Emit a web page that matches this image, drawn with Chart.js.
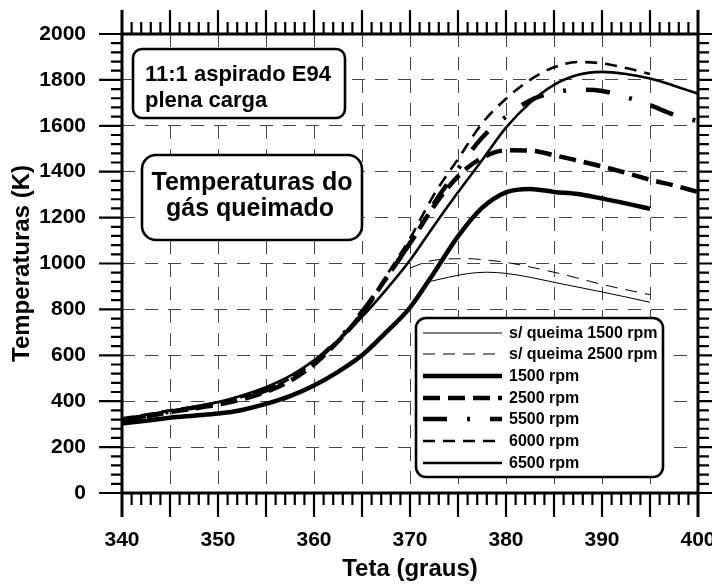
<!DOCTYPE html>
<html><head><meta charset="utf-8">
<script src="https://cdn.jsdelivr.net/npm/chart.js@4/dist/chart.umd.min.js"></script>
<style>html,body{margin:0;padding:0;background:#fff}canvas{display:block}</style>
</head><body>
<canvas id="c" width="712" height="588"></canvas>
<script>
// ---- data ----
const theta = [340,342.5,345,347.5,350,352.5,355,357.5,360,362.5,365,367.5,370,372.5,375,377.5,380,382.5,385,387.5,390,392.5,395,397.5,400];
const rpm1500 = [303,315,328,337,346,362,388,422,468,528,600,700,808,960,1118,1242,1310,1325,1312,1303,1283,1262,1238,null,null];
const rpm2500 = [315,333,352,368,385,408,440,488,560,660,782,935,1088,1250,1380,1460,1493,1492,1472,1448,1423,1395,1365,1340,1312];
const rpm5500 = [318,336,355,372,390,415,447,495,570,668,790,935,1090,1262,1412,1548,1640,1710,1745,1757,1752,1725,1690,1648,1620];
const rpm6000 = [325,342,360,376,393,418,450,498,572,668,785,945,1110,1300,1455,1610,1718,1800,1855,1878,1872,1852,1826,null,null];
const rpm6500 = [322,340,358,376,396,425,461,510,578,662,767,885,1014,1165,1310,1450,1592,1700,1778,1822,1835,1826,1806,1775,1740];
const thetaSemQueima1500 = [372,374,376,378,380,382.5,385,387.5,390,392.5,395];
const semQueima1500 = [921,940,956,962,957,940,918,897,876,854,831];
const thetaSemQueima2500 = [370,372,374,376,378,380,382.5,385,387.5,390,392.5,395];
const semQueima2500 = [980,1010,1020,1021,1015,1005,985,962,936,909,886,864];
const seriesLabels = ['s/ queima 1500 rpm','s/ queima 2500 rpm','1500 rpm','2500 rpm','5500 rpm','6000 rpm','6500 rpm'];
const xTickLabels = [340,350,360,370,380,390,400];
const yTickLabels = [0,200,400,600,800,1000,1200,1400,1600,1800,2000];
const xAxisTitle = 'Teta (graus)';
const yAxisTitle = 'Temperaturas (K)';
const box1Lines = ['11:1 aspirado E94','plena carga'];
const box2Lines = ['Temperaturas do','gás queimado'];

const FONT = "'Liberation Sans', Arial, Helvetica, sans-serif";
function pts(xs, ys){ return xs.map((x,i)=>({x:x, y:ys[i]})).filter(p=>p.y!==null); }

const seriesData = [
  pts(thetaSemQueima1500, semQueima1500),
  pts(thetaSemQueima2500, semQueima2500),
  pts(theta, rpm1500), pts(theta, rpm2500), pts(theta, rpm5500), pts(theta, rpm6000), pts(theta, rpm6500)
];
const seriesStyle = [
  {w:1, dash:[]}, {w:1, dash:[12,8]}, {w:4.5, dash:[]}, {w:4.5, dash:[17,8]},
  {w:4.5, dash:[24,20,3,20]}, {w:2.6, dash:[12,8]}, {w:2.6, dash:[]}
];

const datasets = seriesLabels.map((lab,i)=>({
  label: lab, data: seriesData[i], borderColor:'#000', backgroundColor:'#000',
  borderWidth: seriesStyle[i].w, borderDash: seriesStyle[i].dash, borderCapStyle:'butt',
  pointRadius:0, fill:false, cubicInterpolationMode:'monotone', spanGaps:false
}));

function roundBox(ctx, x, y, w, h, r){
  ctx.beginPath(); ctx.roundRect(x, y, w, h, r);
  ctx.fillStyle='#fff'; ctx.fill(); ctx.lineWidth=2.6; ctx.strokeStyle='#000'; ctx.stroke();
}

const framePlugin = {
  id:'frame',
  afterDatasetsDraw(chart){
    const {ctx, chartArea:a, scales:{x, y}} = chart;
    ctx.save();
    // annotation box 1
    roundBox(ctx, 133, 49, 212, 69, 9);
    ctx.fillStyle='#000'; ctx.font='bold 22px '+FONT; ctx.textAlign='left'; ctx.textBaseline='alphabetic';
    ctx.fillText(box1Lines[0], 145, 81);
    ctx.fillText(box1Lines[1], 145, 107);
    // annotation box 2
    roundBox(ctx, 142, 155, 220, 85, 14);
    ctx.fillStyle='#000'; ctx.font='bold 25px '+FONT; ctx.textAlign='center';
    ctx.fillText(box2Lines[0], 252, 190);
    ctx.fillText(box2Lines[1], 250, 216);
    // legend
    roundBox(ctx, 416, 318, 247, 159, 10);
    const rows = [333,354,376,398,419,441,463];
    chart.data.datasets.forEach((ds,i)=>{
      ctx.save();
      ctx.strokeStyle='#000'; ctx.lineWidth=ds.borderWidth; ctx.setLineDash(ds.borderDash); ctx.lineCap='butt';
      ctx.beginPath(); ctx.moveTo(423, rows[i]); ctx.lineTo(502, rows[i]); ctx.stroke();
      ctx.restore();
      ctx.fillStyle='#000'; ctx.font='bold 16px '+FONT; ctx.textAlign='left'; ctx.textBaseline='middle';
      ctx.fillText(ds.label, 509, rows[i]+1);
    });
    // axes frame
    ctx.setLineDash([]); ctx.strokeStyle='#000'; ctx.lineCap='butt';
    ctx.lineWidth=3;
    ctx.beginPath();
    ctx.moveTo(a.left, a.top-24); ctx.lineTo(a.left, a.bottom+24);
    ctx.moveTo(a.right, a.top-24); ctx.lineTo(a.right, a.bottom+24);
    ctx.moveTo(a.left, a.bottom); ctx.lineTo(a.right, a.bottom);
    ctx.moveTo(a.left, a.top); ctx.lineTo(a.right, a.top);
    ctx.stroke();
    // x ticks
    ctx.lineWidth=2.2;
    ctx.beginPath();
    for(let t=341; t<400; t++){
      const px = x.getPixelForValue(t);
      const major = (t%5===0);
      const len = major ? 24 : 12;
      ctx.moveTo(px, a.bottom); ctx.lineTo(px, a.bottom+len);
      ctx.moveTo(px, a.top); ctx.lineTo(px, a.top-len);
    }
    // y ticks
    for(let v=40; v<2000; v+=40){
      const py = y.getPixelForValue(v);
      const major = (v%200===0);
      ctx.moveTo(a.left, py); ctx.lineTo(a.left-(major?23:11), py);
      ctx.moveTo(a.right, py); ctx.lineTo(a.right+(major?14:11), py);
    }
    for(const v of [0,2000]){
      const py = y.getPixelForValue(v);
      ctx.moveTo(a.left, py); ctx.lineTo(a.left-23, py);
      ctx.moveTo(a.right, py); ctx.lineTo(a.right+14, py);
    }
    ctx.stroke();
    ctx.restore();
  }
};

new Chart(document.getElementById('c'), {
  type:'line',
  data:{datasets},
  options:{
    responsive:false, animation:false, devicePixelRatio:1,
    layout:{padding:{left:0, right:14, top:34, bottom:0}},
    plugins:{legend:{display:false}, tooltip:{enabled:false}},
    scales:{
      x:{type:'linear', min:340, max:400,
        afterFit(s){ s.height=95; s.paddingLeft=0; s.paddingRight=0; },
        ticks:{stepSize:5, padding:35, maxRotation:0, autoSkip:false, color:'#000',
          font:{family:FONT, size:21, weight:'bold'},
          callback:(v)=> xTickLabels.includes(v) ? String(v) : ''},
        grid:{drawTicks:false, lineWidth:1,
          color:(c)=> (c.tick && (c.tick.value===340 || c.tick.value===400)) ? 'rgba(0,0,0,0)' : '#444'},
        border:{display:false, dash:[13,10]},
        title:{display:true, text:xAxisTitle, color:'#000', font:{family:FONT, size:24, weight:'bold'}, padding:{top:0, bottom:4}}
      },
      y:{type:'linear', min:0, max:2000,
        afterFit(s){ s.width=122; s.paddingTop=0; s.paddingBottom=0; },
        ticks:{stepSize:200, padding:36, color:'#000', autoSkip:false,
          font:{family:FONT, size:21, weight:'bold'},
          callback:(v)=> yTickLabels.includes(v) ? String(v) : ''},
        grid:{drawTicks:false, lineWidth:1,
          color:(c)=> (c.tick && (c.tick.value===0 || c.tick.value===2000)) ? 'rgba(0,0,0,0)' : '#444'},
        border:{display:false, dash:[13,10]},
        title:{display:true, text:yAxisTitle, color:'#000', font:{family:FONT, size:24, weight:'bold'}, padding:{top:8, bottom:0}}
      }
    }
  },
  plugins:[framePlugin]
});
</script>
</body></html>
